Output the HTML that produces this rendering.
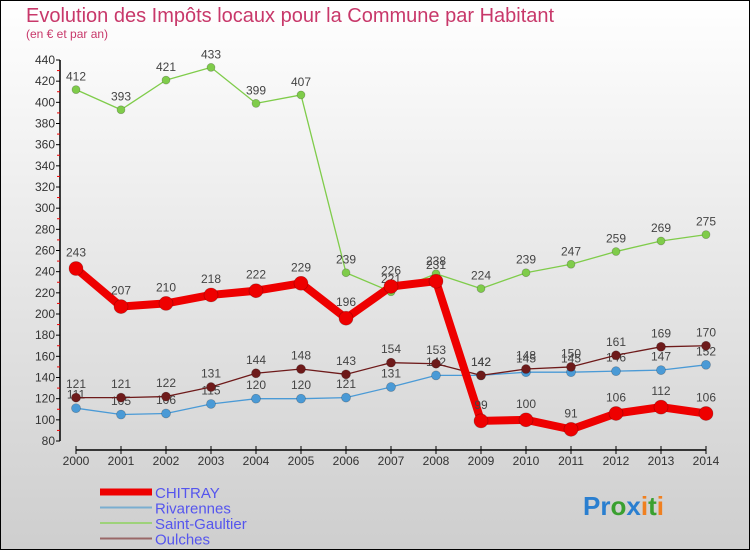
<!DOCTYPE html>
<html><head><meta charset="utf-8"><style>
body{margin:0;}
#c{position:relative;width:750px;height:550px;}
svg text{font-family:"Liberation Sans",sans-serif;}
</style></head><body>
<div id="c">
<svg id="s" width="750" height="550" xmlns="http://www.w3.org/2000/svg">
<defs>
<linearGradient id="bg" x1="0" y1="0" x2="0" y2="1"><stop offset="0" stop-color="#ffffff"/><stop offset="1" stop-color="#cecece"/></linearGradient>
</defs>
<rect x="0.5" y="0.5" width="749" height="549" fill="url(#bg)" stroke="#000"/>
<text x="26" y="22" font-size="20" fill="#c8386a">Evolution des Impôts locaux pour la Commune par Habitant</text>
<text x="26" y="38" font-size="12" fill="#c8386a">(en € et par an)</text>
<g id="axes"></g>
<g id="series"></g>
<g id="legend"></g>
<text x="583" y="515" font-size="26" font-weight="bold"><tspan fill="#2a7fd0">Pr</tspan><tspan fill="#3aa030">o</tspan><tspan fill="#2a7fd0">x</tspan><tspan fill="#f08020">i</tspan><tspan fill="#3aa030">t</tspan><tspan fill="#f08020">i</tspan></text>
</svg>
</div>
<script>
const years=[2000,2001,2002,2003,2004,2005,2006,2007,2008,2009,2010,2011,2012,2013,2014];
const chitray=[243,207,210,218,222,229,196,226,231,99,100,91,106,112,106];
const rivarennes=[111,105,106,115,120,120,121,131,142,142,145,145,146,147,152];
const saintGaultier=[412,393,421,433,399,407,239,221,238,224,239,247,259,269,275];
const oulches=[121,121,122,131,144,148,143,154,153,142,148,150,161,169,170];
const yTicks=[80,100,120,140,160,180,200,220,240,260,280,300,320,340,360,380,400,420,440];
const NS="http://www.w3.org/2000/svg";
function X(i){return 76+i*45;}
function Y(v){return 60+(440-v)*(381/360);}
function mk(t,a,p){const e=document.createElementNS(NS,t);for(const k in a)e.setAttribute(k,a[k]);p.appendChild(e);return e;}
const ax=document.getElementById('axes');
let yl=mk('line',{x1:60,y1:Y(440),x2:60,y2:Y(80),stroke:'#000','stroke-width':1.5},ax);


let xl=mk('line',{x1:X(0),y1:450,x2:X(14),y2:450,stroke:'#000','stroke-width':1.5},ax);


yTicks.forEach(v=>{
 mk('line',{x1:56,y1:Y(v),x2:60,y2:Y(v),stroke:'#000'},ax);
 if(v<440)mk('line',{x1:57,y1:Y(v+10),x2:60,y2:Y(v+10),stroke:'#e00'},ax);
 const t=mk('text',{x:55,y:Y(v)+4,'font-size':12,'text-anchor':'end',fill:'#333'},ax);
 
 
 t.textContent=v;
});
years.forEach((y,i)=>{
 mk('line',{x1:X(i),y1:446,x2:X(i),y2:454,stroke:'#000'},ax);
 const t=mk('text',{x:X(i),y:465,'font-size':12,'text-anchor':'middle',fill:'#333'},ax);
 
 
 t.textContent=y;
});
const sg=document.getElementById('series');
function draw(name,data,color,lw,r){
 const g=mk('g',{},sg);
 
 
 const pl=mk('polyline',{points:data.map((v,i)=>X(i)+','+Y(v)).join(' '),fill:'none',stroke:color,'stroke-width':lw,'stroke-linejoin':'round'},g);
 
 
 data.forEach((v,i)=>{
  const c=mk('circle',{cx:X(i),cy:Y(v),r:r,fill:color,stroke:'rgba(0,0,0,0.25)','stroke-width':0.7},g);
  
  
  const t=mk('text',{x:X(i),y:Y(v)-r-5,'font-size':12,'text-anchor':'middle',fill:'#444'},g);
  
  
  t.textContent=v;
 });
}
draw('saint-gaultier',saintGaultier,'#7fcc4a',1.3,4);
draw('rivarennes',rivarennes,'#4a9ad6',1.3,4.5);
draw('oulches',oulches,'#6e1a1a',1.3,4.5);
draw('chitray',chitray,'#ee0000',8,7);
const lg=document.getElementById('legend');
const items=[['CHITRAY','#ee0000',7],['Rivarennes','#7aaed0',2],['Saint-Gaultier','#9ed27a',2],['Oulches','#9a6868',2]];
items.forEach((it,k)=>{
 const y=492+k*15.5;
 const g=mk('g',{},lg);
 
 
 mk('line',{x1:100,y1:y,x2:152,y2:y,stroke:it[1],'stroke-width':it[2]},g);
 const t=mk('text',{x:155,y:y+6,'font-size':15,fill:'#5555ee'},g);
 t.textContent=it[0];
});
</script>
</body></html>
